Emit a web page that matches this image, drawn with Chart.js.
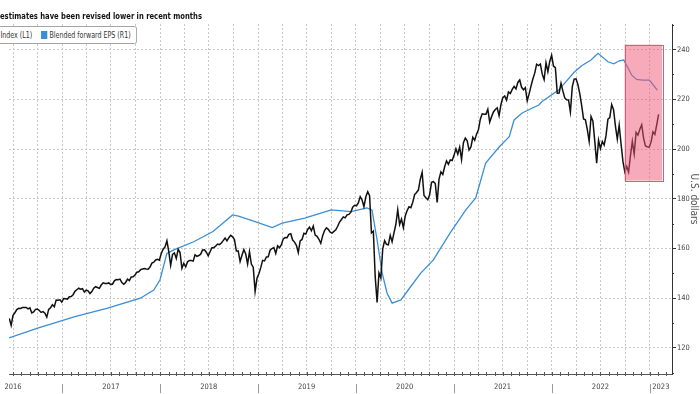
<!DOCTYPE html>
<html>
<head>
<meta charset="utf-8">
<script src="https://cdn.jsdelivr.net/npm/chart.js@4.4.0/dist/chart.umd.min.js"></script>
<style>
  html, body { margin: 0; padding: 0; background: #fff; overflow: hidden; }
  #wrap { position: relative; width: 700px; height: 394px; overflow: hidden; }
  #title { position: absolute; left: 0; top: 11px; font: bold 9px 'DejaVu Sans Condensed', sans-serif; color: #111; white-space: nowrap;
           transform: scaleX(0.84); transform-origin: 0 0; }
  #legend { position: absolute; right: 563px; top: 26px; height: 16px; border: 1px solid #999; border-radius: 3px; background: #fff;
            display: flex; align-items: center; padding: 0 7px 0 5px; font: 9px 'DejaVu Sans Condensed', sans-serif; color: #333; white-space: nowrap;
            transform: scaleX(0.78); transform-origin: 100% 0; }
  #legend .item { display: flex; align-items: center; }
  #legend .item + .item { margin-left: 11px; }
  #legend .sw { display: inline-block; width: 8px; height: 8px; margin-right: 3px; }
</style>
</head>
<body>
<div id="wrap">
  <canvas id="chart" width="700" height="394"></canvas>
  <div id="title">estimates have been revised lower in recent months</div>
  <div id="legend"></div>
</div>
<script>
// S&P 500 index, weekly (Fridays) from 2016-06-17
const spxStart = '2016-06-17';
const spx2016 = [2071, 2000, 2103, 2130, 2162, 2175, 2174, 2183, 2184, 2184, 2169, 2180, 2128, 2139, 2165, 2168,
  2153, 2133, 2141, 2126, 2085, 2164, 2182, 2213, 2192, 2260, 2258, 2264, 2239];
const spx2017 = [2277, 2275, 2271, 2295, 2297, 2316, 2351, 2367, 2383, 2373, 2378, 2344, 2363, 2356, 2329, 2349,
  2384, 2399, 2391, 2382, 2416, 2439, 2432, 2433, 2438, 2423, 2425, 2459, 2473, 2472, 2477, 2441, 2425, 2443,
  2477, 2461, 2500, 2502, 2519, 2549, 2553, 2575, 2581, 2587, 2582, 2579, 2602, 2642, 2652, 2675, 2683, 2674];
const spx2018 = [2743, 2786, 2810, 2873, 2762, 2620, 2732, 2747, 2691, 2786, 2752, 2588, 2641, 2604, 2656, 2670,
  2670, 2663, 2728, 2713, 2721, 2735, 2779, 2780, 2755, 2718, 2760, 2801, 2802, 2819, 2840, 2833, 2850, 2875,
  2902, 2872, 2905, 2930, 2914, 2886, 2767, 2768, 2659, 2723, 2781, 2736, 2633, 2760, 2633, 2600, 2351, 2486];
const spx2019 = [2532, 2596, 2671, 2665, 2707, 2708, 2776, 2793, 2804, 2743, 2822, 2801, 2834, 2893, 2907, 2905,
  2940, 2946, 2881, 2860, 2826, 2752, 2873, 2887, 2950, 2942, 2990, 3014, 2977, 3026, 2932, 2919, 2889, 2847,
  2926, 2979, 3007, 2992, 2962, 2952, 2970, 2986, 3023, 3067, 3093, 3120, 3110, 3141, 3146, 3169, 3221, 3240];
const spx2020 = [3235, 3265, 3330, 3295, 3226, 3328, 3380, 3338, 2954, 2972, 2500, 2237, 2541, 2489, 2790, 2875,
  2837, 2831, 2930, 2864, 2955, 3044, 3194, 3041, 3098, 3009, 3130, 3185, 3225, 3216, 3271, 3351, 3373, 3397,
  3508, 3580, 3341, 3319, 3298, 3348, 3477, 3484, 3465, 3270, 3510, 3585, 3558, 3638, 3699, 3663, 3709, 3703];
const spx2021 = [3756, 3825, 3768, 3841, 3714, 3887, 3934, 3907, 3811, 3842, 3943, 3913, 3975, 4020, 4129, 4185,
  4180, 4181, 4233, 4100, 4156, 4204, 4230, 4247, 4166, 4281, 4352, 4370, 4327, 4412, 4395, 4437, 4468, 4442,
  4509, 4535, 4459, 4433, 4455, 4320, 4391, 4471, 4545, 4605, 4697, 4683, 4698, 4595, 4538, 4712, 4621, 4726, 4790];
const spx2022 = [4677, 4663, 4398, 4400, 4501, 4419, 4349, 4330, 4329, 4204, 4463, 4543, 4546, 4488, 4393, 4272,
  4132, 4123, 4024, 3901, 4158, 4109, 3901, 3675, 3912, 3825, 3899, 3863, 3962, 4130, 4145, 4280, 4228, 4058,
  3924, 4067, 3873, 3693, 3586, 3640, 3583, 3752, 3901, 3771, 3993, 3965, 4026, 4072, 3934, 3852, 3845, 3840];
const spx2023 = [3895, 3999, 3973, 4071, 4180];

// Blended forward EPS (right axis, U.S. dollars)
const epsDates = ['2016-06-16', '2016-10-01', '2017-02-17', '2017-06-19', '2017-10-19', '2017-12-08', '2017-12-31',
  '2018-01-26', '2018-02-21', '2018-05-06', '2018-07-17', '2018-09-28', '2018-10-20', '2018-12-21', '2019-02-23',
  '2019-04-01', '2019-06-24', '2019-10-01', '2019-12-14', '2020-02-11', '2020-03-01', '2020-03-20', '2020-04-08',
  '2020-04-26', '2020-05-15', '2020-06-17', '2020-07-23', '2020-08-29', '2020-10-16', '2020-12-17', '2021-02-14',
  '2021-03-23', '2021-04-29', '2021-06-19', '2021-07-26', '2021-08-13', '2021-09-12', '2021-11-13', '2021-11-24',
  '2022-01-26', '2022-03-26', '2022-04-22', '2022-05-27', '2022-06-22', '2022-07-29', '2022-08-20', '2022-09-10',
  '2022-09-26', '2022-10-26', '2022-11-13', '2022-12-05', '2022-12-31', '2023-01-29'];
const epsValues = [124.0, 128.0, 132.6, 136.0, 140.0, 143.3, 147.3,
  158.0, 159.4, 162.7, 166.8, 173.5, 173.0, 170.8, 168.4,
  170.2, 172.2, 175.5, 174.8, 176.3, 175.5, 163.4, 150.1,
  142.1, 138.0, 139.3, 144.6, 150.0, 155.4, 166.2, 175.5,
  180.3, 194.4, 200.9, 205.0, 211.7, 214.5, 217.7, 219.0,
  223.7, 231.0, 233.5, 235.8, 238.5, 235.1, 234.3, 235.5,
  235.8, 229.7, 228.0, 227.7, 227.7, 223.7];

const seriesLabels = ['S&P 500 Index (L1)', 'Blended forward EPS (R1)'];
const yearLabels = ['2016', '2017', '2018', '2019', '2020', '2021', '2022', '2023'];
const rightTicks = [120, 140, 160, 180, 200, 220, 240];
const xFrom = '2016-06-16', xTo = '2023-03-25';
// highlighted period
const boxFrom = '2022-09-29', boxTo = '2023-02-16', boxTop = 242, boxBottom = 187.3;

const DAY = 86400000;
const spxValues = [].concat(spx2016, spx2017, spx2018, spx2019, spx2020, spx2021, spx2022, spx2023);
const spxPoints = spxValues.map((v, i) => ({ x: Date.parse(spxStart) + i * 7 * DAY, y: v }));
const epsPoints = epsDates.map((d, i) => ({ x: Date.parse(d), y: epsValues[i] }));

const xMin = Date.parse(xFrom), xMax = Date.parse(xTo);
const quarterTicks = [], monthTicks = [], yearStarts = [];
for (let y = 2016; y <= 2023; y++) {
  for (let m = 0; m < 12; m++) {
    const t = Date.UTC(y, m, 1);
    if (t < xMin || t > xMax) continue;
    monthTicks.push(t);
    if (m % 3 === 0) quarterTicks.push(t);
    if (m === 0) yearStarts.push(t);
  }
}
const labelAt = new Map();
yearLabels.forEach(lab => {
  const y = +lab;
  const t = y < 2023 ? Date.UTC(y, 6, 1) : (Date.UTC(y, 0, 1) + xMax) / 2;
  labelAt.set(t, lab);
});
const quarterSet = new Set(quarterTicks);
const xTickValues = Array.from(new Set([xMin, ...quarterTicks, ...labelAt.keys()])).sort((a, b) => a - b);

Chart.defaults.font.family = "'DejaVu Sans Condensed', sans-serif";

const decorations = {
  id: 'decorations',
  afterDatasetsDraw(chart) {
    const { ctx, scales: { x, yR } } = chart;
    const x1 = x.getPixelForValue(Date.parse(boxFrom));
    const x2 = x.getPixelForValue(Date.parse(boxTo));
    const y1 = yR.getPixelForValue(boxTop);
    const y2 = yR.getPixelForValue(boxBottom);
    ctx.save();
    ctx.fillStyle = 'rgba(240, 85, 115, 0.5)';
    ctx.fillRect(x1, y1, x2 - x1, y2 - y1);
    ctx.strokeStyle = '#dc5a72';
    ctx.lineWidth = 1;
    ctx.strokeRect(Math.round(x1) + 0.5, Math.round(y1) + 0.5, Math.round(x2 - x1), Math.round(y2 - y1));
    ctx.restore();
  },
  afterDraw(chart) {
    const { ctx, scales: { x, yR }, chartArea } = chart;
    ctx.save();
    ctx.lineWidth = 1;
    // monthly ticks on the time axis
    ctx.strokeStyle = '#555';
    monthTicks.forEach(t => {
      const px = Math.round(x.getPixelForValue(t)) + 0.5;
      ctx.beginPath(); ctx.moveTo(px, chartArea.bottom - 2); ctx.lineTo(px, chartArea.bottom + 2); ctx.stroke();
    });
    // year separators between labels
    ctx.strokeStyle = '#999';
    yearStarts.forEach(t => {
      const px = Math.round(x.getPixelForValue(t)) + 0.5;
      ctx.beginPath(); ctx.moveTo(px, chartArea.bottom + 10); ctx.lineTo(px, chartArea.bottom + 19); ctx.stroke();
    });
    // minor ticks on the right axis
    ctx.strokeStyle = '#333';
    for (let v = 110; v <= 250; v += 20) {
      const py = Math.round(yR.getPixelForValue(v)) + 0.5;
      ctx.beginPath(); ctx.moveTo(chartArea.right, py); ctx.lineTo(chartArea.right + 2, py); ctx.stroke();
    }
    ctx.restore();
  }
};

const chart = new Chart(document.getElementById('chart'), {
  type: 'line',
  data: {
    datasets: [{
      label: seriesLabels[0],
      data: spxPoints,
      yAxisID: 'yL',
      borderColor: '#111',
      borderWidth: 1.5,
      pointRadius: 0,
      tension: 0
    }, {
      label: seriesLabels[1],
      data: epsPoints,
      yAxisID: 'yR',
      borderColor: '#3b8ed4',
      borderWidth: 1.3,
      pointRadius: 0,
      tension: 0
    }]
  },
  options: {
    responsive: false,
    animation: false,
    layout: { padding: { top: 24, left: 0, right: 0, bottom: 0 } },
    plugins: { legend: { display: false }, tooltip: { enabled: false } },
    scales: {
      x: {
        type: 'linear',
        min: xMin,
        max: xMax,
        afterBuildTicks: scale => { scale.ticks = xTickValues.map(v => ({ value: v })); },
        afterFit: scale => { scale.height = 20; },
        ticks: {
          autoSkip: false,
          maxRotation: 0,
          padding: 9,
          color: '#444',
          font: { size: 7.5 },
          callback: v => labelAt.get(v) || ''
        },
        grid: {
          drawTicks: false,
          color: c => (c.tick && quarterSet.has(c.tick.value)) ? '#c8c8c8' : 'rgba(0,0,0,0)'
        },
        border: { display: true, color: '#555', dash: [2, 2] }
      },
      yL: {
        position: 'left',
        display: false,
        min: 1497,
        max: 5113
      },
      yR: {
        position: 'right',
        min: 109.5,
        max: 250.3,
        afterBuildTicks: scale => { scale.ticks = rightTicks.map(v => ({ value: v })); },
        afterFit: scale => { scale.width = 28; },
        ticks: { padding: 1, color: '#444', font: { size: 7.5 } },
        grid: { color: '#c8c8c8', tickLength: 4, tickColor: '#333', drawTicks: true },
        border: { display: true, color: '#333', dash: [2, 2] },
        title: { display: true, text: 'U.S. dollars', color: '#555', font: { size: 10 }, padding: 0 }
      }
    }
  },
  plugins: [decorations]
});

// legend box drawn from the dataset labels
const legend = document.getElementById('legend');
chart.data.datasets.forEach(ds => {
  const item = document.createElement('span');
  item.className = 'item';
  const sw = document.createElement('span');
  sw.className = 'sw';
  sw.style.background = ds.borderColor;
  const txt = document.createElement('span');
  txt.textContent = ds.label;
  item.appendChild(sw);
  item.appendChild(txt);
  legend.appendChild(item);
});
</script>
</body>
</html>
